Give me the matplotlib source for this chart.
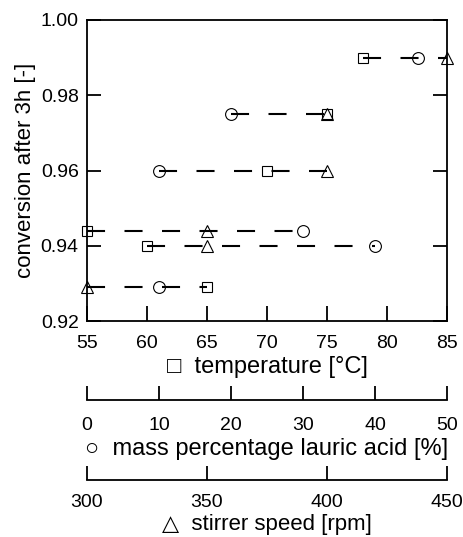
import numpy as np
import matplotlib
matplotlib.use("Agg")
import matplotlib.pyplot as plt

plt.rcParams['font.family'] = ['Liberation Sans', 'DejaVu Sans']
plt.rcParams['lines.scale_dashes'] = False

# conversion levels (one row per experiment set)
conv = [0.99, 0.975, 0.96, 0.944, 0.94, 0.929]
temp = [78, 75, 70, 55, 60, 65]          # square, degC
mass = [46, 20, 10, 30, 40, 10]          # circle, %
speed = [450, 400, 400, 350, 350, 300]   # triangle, rpm

temp_ticks = np.arange(55, 86, 5)
mass_ticks = np.arange(0, 51, 10)
speed_ticks = np.arange(300, 451, 50)

fig = plt.figure(figsize=(4.63, 5.37), dpi=100)
ax = fig.add_axes([87/463, 1 - 321/537, 360/463, 301/537])
ax_m = ax.twiny()
ax_s = ax.twiny()

ax.set_xlim(55, 85)
ax.set_ylim(0.92, 1.00)
ax_m.set_xlim(0, 50)
ax_s.set_xlim(300, 450)

fs = 14   # tick labels
ax.set_xticks(temp_ticks)
ax.set_yticks(np.arange(0.92, 1.001, 0.02))
ax.set_yticklabels(["%.2f" % v for v in np.arange(0.92, 1.001, 0.02)])
ax.tick_params(axis='x', direction='in', length=11, width=1.3, labelsize=fs, pad=10)
ax.tick_params(axis='y', direction='in', length=10, width=1.3, labelsize=fs,
               right=True, pad=6)
ax.set_xlabel("\u25a1  temperature [\u00b0C]", fontsize=17, labelpad=3)
ax.set_ylabel("conversion after 3h [-]", fontsize=16, labelpad=3)
for sp in ax.spines.values():
    sp.set_linewidth(1.3)

for a, ticks, off, pad, lp, fl, lab in [
        (ax_m, mass_ticks, 57, 12, 3, 17, "\u25cb  mass percentage lauric acid [%]"),
        (ax_s, speed_ticks, 114.5, 10, 2.5, 16, "\u25b3  stirrer speed [rpm]")]:
    a.xaxis.set_ticks_position('bottom')
    a.xaxis.set_label_position('bottom')
    a.spines['bottom'].set_position(('outward', off))
    a.spines['bottom'].set_linewidth(1.3)
    for s in ['top', 'left', 'right']:
        a.spines[s].set_visible(False)
    a.set_xticks(ticks)
    a.tick_params(axis='x', direction='in', length=10, width=1.3, labelsize=fs, pad=pad)
    a.set_xlabel(lab, fontsize=fl, labelpad=lp)
    a.patch.set_visible(False)

# dashed line joining the three points of each row, in temperature units
inv = ax.transData.inverted()
for i, y in enumerate(conv):
    xs = [temp[i],
          inv.transform(ax_m.transData.transform((mass[i], y)))[0],
          inv.transform(ax_s.transData.transform((speed[i], y)))[0]]
    ax.plot([min(xs), max(xs)], [y, y], color='black', lw=1.5,
            linestyle=(0, (13, 14)), zorder=2, clip_on=False)

mk = dict(color='black', fillstyle='none', linestyle='none', mew=0.8,
          clip_on=False, zorder=3)
ax.plot(temp, conv, marker='s', ms=7.5, **mk)
ax_m.plot(mass, conv, marker='o', ms=8.5, **mk)
ax_s.plot(speed, conv, marker='^', ms=8.5, **mk)

plt.savefig("out.png", dpi=100)
